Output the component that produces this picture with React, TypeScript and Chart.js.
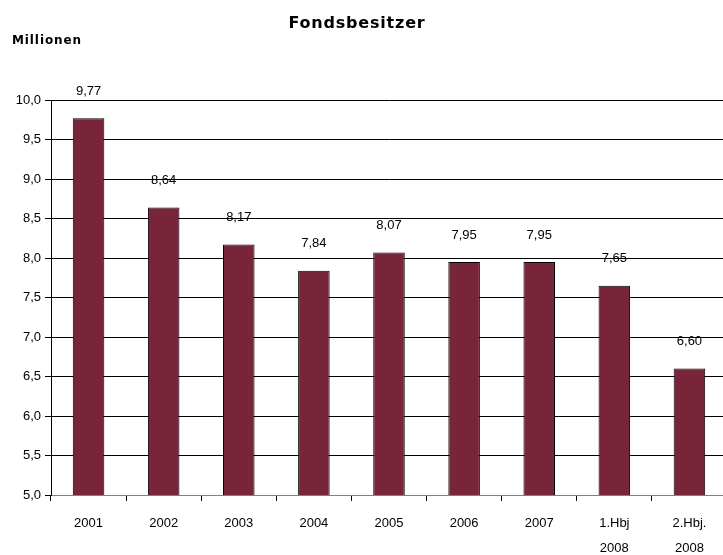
import React, { useEffect, useRef } from "react";
import { Chart, registerables } from "chart.js";

Chart.register(...registerables);

const categories: (string | string[])[] = ["2001", "2002", "2003", "2004", "2005", "2006", "2007", ["1.Hbj", "2008"], ["2.Hbj.", "2008"]];
const values: number[] = [9.77, 8.64, 8.17, 7.84, 8.07, 7.95, 7.95, 7.65, 6.6];
const valueLabels: string[] = ["9,77", "8,64", "8,17", "7,84", "8,07", "7,95", "7,95", "7,65", "6,60"];
const title = "Fondsbesitzer";
const unitLabel = "Millionen";

const FONT = "'Liberation Sans', Arial, sans-serif";
const HEAD_FONT = "'DejaVu Sans', sans-serif";

const overlayPlugin = {
  id: "overlay",
  afterDatasetsDraw(chart: any) {
    const ctx = chart.ctx;
    const meta = chart.getDatasetMeta(0);
    ctx.save();
    ctx.fillStyle = "#000";
    ctx.textAlign = "center";
    ctx.textBaseline = "middle";
    ctx.font = `13px ${FONT}`;
    meta.data.forEach((bar: any, i: number) => {
      ctx.fillText(valueLabels[i], bar.x, bar.y - 27);
    });
    ctx.font = `bold 16px ${HEAD_FONT}`;
    (ctx as any).letterSpacing = "0.8px";
    ctx.fillText(title, 357, 24);
    ctx.textAlign = "left";
    ctx.font = `bold 12px ${HEAD_FONT}`;
    (ctx as any).letterSpacing = "0.9px";
    ctx.fillText(unitLabel, 12, 41);
    ctx.restore();
  },
};

export default function App() {
  const ref = useRef<HTMLCanvasElement>(null);
  useEffect(() => {
    if (!ref.current) return;
    const chart = new Chart(ref.current, {
      type: "bar",
      data: {
        labels: categories,
        datasets: [
          {
            data: values,
            backgroundColor: "#782439",
            borderColor: "#000",
            borderWidth: 1,
            borderSkipped: false,
            barPercentage: 0.42,
            categoryPercentage: 1,
          },
        ],
      },
      options: {
        animation: false,
        responsive: false,
        maintainAspectRatio: false,
        layout: { padding: { top: 100, left: 0, right: 0, bottom: 0 } },
        plugins: { legend: { display: false }, title: { display: false }, tooltip: { enabled: false } },
        scales: {
          x: {
            grid: { display: true, drawOnChartArea: false, drawTicks: true, tickLength: 6, color: "#000", offset: true },
            border: { display: true, color: "#808080" },
            ticks: { color: "#000", font: { family: FONT, size: 13, lineHeight: "25px" as any }, padding: 10, maxRotation: 0, autoSkip: false },
            afterFit(scale: any) {
              scale.height = 60;
            },
          },
          y: {
            min: 5,
            max: 10,
            grid: { color: "#000", tickLength: 6, lineWidth: 1 },
            border: { display: true, color: "#000" },
            ticks: {
              stepSize: 0.5,
              color: "#000",
              padding: 4,
              font: { family: FONT, size: 13 },
              callback: (v: any) => Number(v).toFixed(1).replace(".", ","),
            },
            afterFit(scale: any) {
              scale.width = 51;
            },
          },
        },
      },
      plugins: [overlayPlugin],
    });
    return () => chart.destroy();
  }, []);
  return (
    <div style={{ position: "fixed", left: 0, top: 0, width: 723, height: 555, background: "#fff", overflow: "hidden" }}>
      <canvas ref={ref} width={727} height={555} style={{ width: 727, height: 555, display: "block" }} />
    </div>
  );
}
